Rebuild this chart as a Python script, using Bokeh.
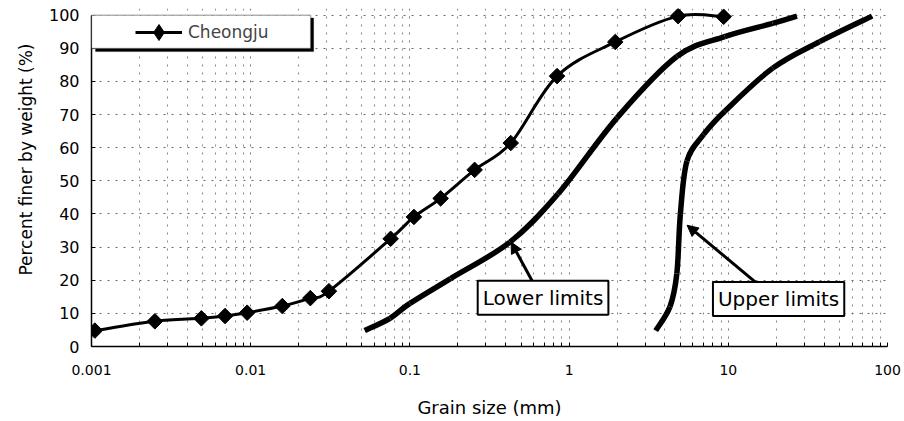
import math
from bokeh.plotting import figure
from bokeh.models import (Range1d, FixedTicker, Legend, LegendItem, BoxAnnotation,
                          Label, Arrow, NormalHead, ColumnDataSource, Title)
from bokeh.embed import file_html
from bokeh.resources import INLINE

# ---------------- data ----------------
cheongju_size = [0.00105, 0.0025, 0.0049, 0.0069, 0.0095, 0.0158, 0.0237, 0.031,
                 0.0757, 0.106, 0.156, 0.255, 0.43, 0.84, 1.95, 4.84, 9.35]
cheongju_pct = [4.8, 7.6, 8.5, 9.2, 10.2, 12.2, 14.6, 16.7,
                32.5, 39.1, 44.7, 53.3, 61.4, 81.6, 91.9, 99.7, 99.5]

lower_size = [0.052, 0.075, 0.1, 0.18, 0.425, 0.85, 2.0, 4.75, 9.5, 19, 27]
lower_pct = [4.8, 8.5, 13, 20.5, 31.5, 46, 69, 87.5, 93.5, 97.5, 99.7]

upper_size = [3.5, 4.3, 4.75, 5.0, 5.5, 7.0, 9.5, 19, 37.5, 80]
upper_pct = [4.8, 12, 22, 40, 56, 64, 71, 84, 92, 99.7]

x_ticks = [0.001, 0.01, 0.1, 1, 10, 100]
x_tick_labels = ["0.001", "0.01", "0.1", "1", "10", "100"]
y_ticks = [0, 10, 20, 30, 40, 50, 60, 70, 80, 90, 100]

FONT = "DejaVu Sans"
NAN = float("nan")


def smooth_segments(xs, ys):
    """Bezier segments (Excel-style smoothed line) computed in log10(x) space."""
    lx = [math.log10(v) for v in xs]
    n = len(xs)
    out = dict(x0=[], y0=[], x1=[], y1=[], cx0=[], cy0=[], cx1=[], cy1=[])
    for i in range(n - 1):
        ip = max(i - 1, 0)
        inx = min(i + 2, n - 1)
        c1x = lx[i] + (lx[i + 1] - lx[ip]) / 6.0
        c1y = ys[i] + (ys[i + 1] - ys[ip]) / 6.0
        c2x = lx[i + 1] - (lx[inx] - lx[i]) / 6.0
        c2y = ys[i + 1] - (ys[inx] - ys[i]) / 6.0
        out["x0"].append(xs[i]); out["y0"].append(ys[i])
        out["x1"].append(xs[i + 1]); out["y1"].append(ys[i + 1])
        out["cx0"].append(10 ** c1x); out["cy0"].append(c1y)
        out["cx1"].append(10 ** c2x); out["cy1"].append(c2y)
    return ColumnDataSource(out)


p = figure(width=904, height=421, x_axis_type="log",
           x_range=Range1d(0.001, 100), y_range=Range1d(0, 102),
           output_backend="svg", toolbar_location=None,
           min_border_left=91, min_border_right=17, min_border_top=8, min_border_bottom=75)
p.outline_line_color = None
p.background_fill_color = "white"

# axes
minor = [m * d for d in [0.001, 0.01, 0.1, 1, 10] for m in range(2, 10)]
p.xaxis.ticker = FixedTicker(ticks=x_ticks, minor_ticks=minor)
p.xaxis.major_label_overrides = {t: l for t, l in zip(x_ticks, x_tick_labels)}
p.yaxis.ticker = FixedTicker(ticks=y_ticks)
p.yaxis.bounds = (0, 100)

for ax in (p.xaxis[0], p.yaxis[0]):
    ax.axis_line_color = "black"
    ax.axis_line_width = 1.5
    ax.major_tick_line_color = "black"
    ax.major_tick_out = 0
    ax.major_tick_in = 4
    ax.minor_tick_out = 0
    ax.major_label_text_font = FONT
    ax.major_label_text_color = "black"

p.xaxis.minor_tick_in = 4
p.xaxis.minor_tick_line_color = "black"
p.yaxis.minor_tick_line_color = None
p.xaxis.major_label_text_font_size = "14px"
p.yaxis.major_label_text_font_size = "16px"
p.xaxis.major_label_standoff = 18
p.yaxis.major_label_standoff = 12

p.xaxis.axis_label = "Grain size (mm)"
p.xaxis.axis_label_text_font = FONT
p.xaxis.axis_label_text_font_size = "18px"
p.xaxis.axis_label_text_font_style = "normal"
p.xaxis.axis_label_text_color = "black"
p.xaxis.axis_label_standoff = 19

# y title (sits above the frame centre in the reference)
ytitle = Title(text="Percent finer by weight (%)", align="right", offset=35,
               text_font=FONT, text_font_size="17px", text_font_style="normal",
               text_color="black", standoff=20)
p.add_layout(ytitle, "left")

# grid
p.xgrid.grid_line_color = "#7a7a7a"
p.xgrid.grid_line_dash = "2 6"
p.xgrid.minor_grid_line_color = "#8a8a8a"
p.xgrid.minor_grid_line_dash = "2 6"
p.ygrid.grid_line_color = "#6a6a6a"
p.ygrid.grid_line_dash = "2 6"

# curves
p.bezier(x0="x0", y0="y0", x1="x1", y1="y1", cx0="cx0", cy0="cy0", cx1="cx1", cy1="cy1",
         source=smooth_segments(lower_size, lower_pct), line_color="black", line_width=5.5)
p.bezier(x0="x0", y0="y0", x1="x1", y1="y1", cx0="cx0", cy0="cy0", cx1="cx1", cy1="cy1",
         source=smooth_segments(upper_size, upper_pct), line_color="black", line_width=5.5)
p.bezier(x0="x0", y0="y0", x1="x1", y1="y1", cx0="cx0", cy0="cy0", cx1="cx1", cy1="cy1",
         source=smooth_segments(cheongju_size, cheongju_pct), line_color="black", line_width=3)
p.scatter(cheongju_size, cheongju_pct, marker="square", angle=math.pi / 4, size=11,
          fill_color="black", line_color="black")

# legend-only renderers (no visible data)
leg_line = p.line(x=[NAN], y=[NAN], line_color="black", line_width=3)
leg_pt = p.scatter(x=[NAN], y=[NAN], marker="diamond", size=16,
                   fill_color="black", line_color="black")

# annotations: arrows + boxed labels
head = dict(size=11, fill_color="black", line_color="black")
p.add_layout(Arrow(end=NormalHead(**head), x_start=0.598, y_start=19.0, x_end=0.432, y_end=31.5,
                   line_color="black", line_width=3))
p.add_layout(Arrow(end=NormalHead(**head), x_start=15.2, y_start=19.0, x_end=5.51, y_end=36.6,
                   line_color="black", line_width=3))
for tx, cx, cy in (("Lower limits", 0.686, 14.7), ("Upper limits", 20.7, 14.3)):
    p.add_layout(Label(x=cx, y=cy, text=tx, text_align="center", text_baseline="middle",
                       text_font=FONT, text_font_size="20px", text_color="black",
                       border_line_color="black", border_line_width=2,
                       background_fill_color="white", padding=5))

# legend box with shadow
p.add_layout(BoxAnnotation(left=0.00106, right=0.02485, bottom=89.0, top=99.1,
                           fill_color="black", fill_alpha=1, line_color="black"))
p.add_layout(BoxAnnotation(left=0.001, right=0.0238, bottom=89.9, top=100.0,
                           fill_color="white", fill_alpha=1, line_color="black", line_width=1.5))
legend = Legend(items=[LegendItem(label="Cheongju", renderers=[leg_line, leg_pt])],
                location=(44, 294), padding=0, margin=0, glyph_width=47, glyph_height=40,
                label_height=40, label_standoff=6, label_text_font=FONT,
                label_text_font_size="17px", border_line_color=None, background_fill_alpha=0)
p.add_layout(legend)

open("out.html", "w").write(file_html(p, INLINE))
